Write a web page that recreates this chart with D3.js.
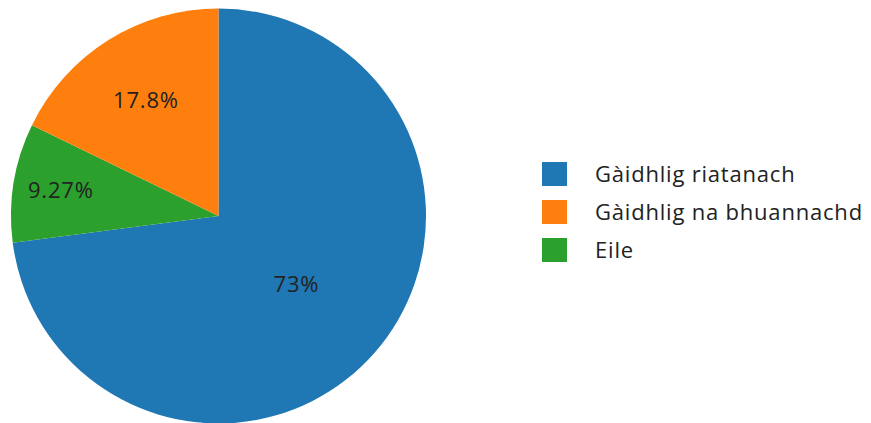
<!DOCTYPE html>
<html><head><meta charset="utf-8">
<script src="https://cdn.jsdelivr.net/npm/d3@7"></script>
<style>html,body{margin:0;padding:0;background:#fff;}svg{display:block;font-family:"Open Sans",sans-serif;}</style>
</head><body>
<svg id="c" width="871" height="423"></svg>
<script>
const labels = ["Gàidhlig riatanach", "Gàidhlig na bhuannachd", "Eile"];
const values = [73, 17.8, 9.27];
const pctText = ["73%", "17.8%", "9.27%"];
const colors = ["#1f77b4", "#ff7f0e", "#2ca02c"];
const drawOrder = [0, 2, 1]; // clockwise from 12 o'clock

const svg = d3.select("#c");
const cx = 218.5, cy = 216, R = 207.5;
const data = drawOrder.map(i => ({i, v: values[i]}));
const arcs = d3.pie().value(d => d.v).sort(null)(data);
const arc = d3.arc().innerRadius(0).outerRadius(R);
const g = svg.append("g").attr("transform", `translate(${cx},${cy})`);
g.selectAll("path").data(arcs).join("path")
  .attr("d", arc).attr("fill", d => colors[d.data.i]);

const labelFrac = {0: 0.5, 1: 0.66, 2: 0.77};
g.selectAll("text").data(arcs).join("text")
  .attr("transform", d => {
    const a = (d.startAngle + d.endAngle) / 2, r = R * labelFrac[d.data.i];
    return `translate(${r * Math.sin(a)},${-r * Math.cos(a)})`;
  })
  .attr("text-anchor", "middle").attr("dy", "0.35em")
  .attr("font-size", 22).attr("letter-spacing", "0.8px").attr("fill", "#222")
  .text(d => pctText[d.data.i]);

const lg = svg.append("g").attr("transform", "translate(542,174)");
const row = lg.selectAll("g").data(labels).join("g")
  .attr("transform", (d, i) => `translate(0,${i * 38})`);
row.append("rect").attr("x", 0).attr("y", -12).attr("width", 25).attr("height", 24)
  .attr("fill", (d, i) => colors[i]);
row.append("text").attr("x", 53).attr("dy", "0.35em")
  .attr("font-size", 22).attr("letter-spacing", "0.8px").attr("fill", "#222").text(d => d);
</script>
</body></html>
